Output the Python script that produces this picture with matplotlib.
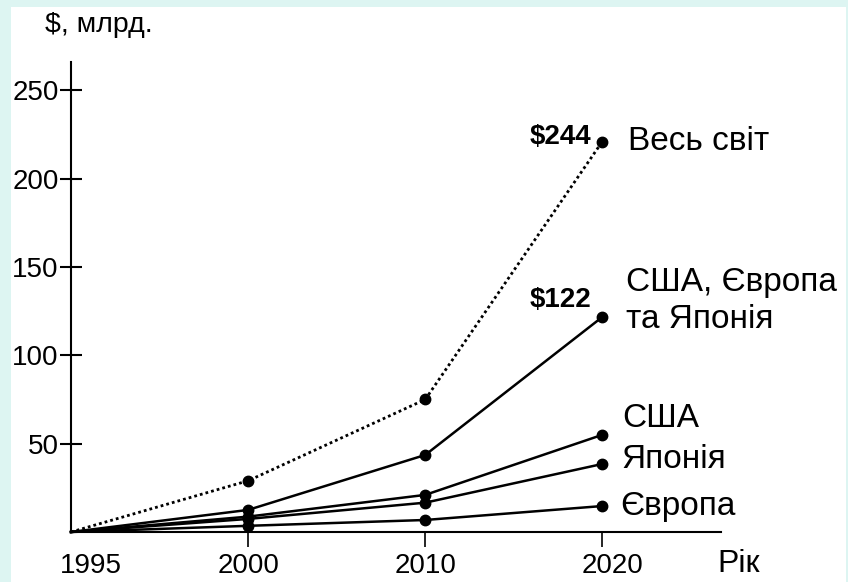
import matplotlib
matplotlib.use('Agg')
import matplotlib.pyplot as plt
import matplotlib.transforms as mtransforms
from matplotlib.patches import Rectangle

plt.rcParams['font.family'] = ['Liberation Sans', 'DejaVu Sans']

years = ['1995', '2000', '2010', '2020']
world = [0, 29, 75, 221]
combined = [0, 12.5, 43.6, 121.7]
usa = [0, 8.7, 21, 55]
japan = [0, 7.4, 16.6, 38.5]
europe = [0, 3.5, 6.8, 14.7]

yticks = [50, 100, 150, 200, 250]

fig = plt.figure(figsize=(8.48, 5.82), dpi=100)
fig.patch.set_facecolor('#ddf5f2')
fig.patches.append(Rectangle((11 / 848, 0), 835 / 848, 575 / 582,
                             transform=fig.transFigure, facecolor='white',
                             edgecolor='none', zorder=-10))

ax = fig.add_axes([71 / 848, 50 / 582, 650 / 848, 470 / 582])
ax.set_facecolor('none')

x = list(range(len(years)))
ax.plot(x, world, color='black', lw=2, linestyle=(0, (1, 1.1)),
        marker='o', ms=7.5, markevery=[1, 2, 3], clip_on=False)
for s in [combined, usa, japan, europe]:
    ax.plot(x, s, color='black', lw=1.8, marker='o', ms=7.5,
            markevery=[1, 2, 3], clip_on=False)

ax.set_xlim(0, 3.67)
ax.set_ylim(0, 266)

for side in ['top', 'right']:
    ax.spines[side].set_visible(False)
for side in ['left', 'bottom']:
    ax.spines[side].set_linewidth(1.5)

ax.set_yticks(yticks)
ax.tick_params(axis='y', direction='inout', length=16, width=1.5,
               labelsize=20, pad=1)
ax.set_xticks(x[1:])
ax.set_xticklabels(years[1:])
ax.tick_params(axis='x', direction='out', length=11, width=1.2,
               labelsize=20, pad=4)
# the 2020 label sits a bit right of its tick in the original
lbl = ax.get_xticklabels()[-1]
lbl.set_transform(lbl.get_transform() +
                  mtransforms.ScaledTranslation(10 / 100, 0, fig.dpi_scale_trans))
ax.annotate(years[0], xy=(0, 0), xytext=(14, -15), textcoords='offset points',
            ha='center', va='top', fontsize=20, annotation_clip=False)

fs = 24
ax.annotate('Весь світ', xy=(3, world[3]), xytext=(18.5, 0),
            textcoords='offset points', va='center', fontsize=fs)
ax.annotate('США, Європа\nта Японія', xy=(3, combined[3]), xytext=(17, 11.5),
            textcoords='offset points', va='center', fontsize=fs,
            linespacing=1.27)
ax.annotate('США', xy=(3, usa[3]), xytext=(14, 11.5),
            textcoords='offset points', va='center', fontsize=fs)
ax.annotate('Японія', xy=(3, japan[3]), xytext=(14, 3),
            textcoords='offset points', va='center', fontsize=fs)
ax.annotate('Європа', xy=(3, europe[3]), xytext=(13, 0),
            textcoords='offset points', va='center', fontsize=fs)

ax.annotate('$244', xy=(3, world[3]), xytext=(-8, 3),
            textcoords='offset points', ha='right', va='center',
            fontsize=20, fontweight='bold')
ax.annotate('$122', xy=(3, combined[3]), xytext=(-8, 12),
            textcoords='offset points', ha='right', va='center',
            fontsize=20, fontweight='bold')

fig.text(45 / 848, 1 - 25 / 582, '$, млрд.', fontsize=20.5, va='center')
fig.text(717 / 848, 1 - 564 / 582, 'Рік', fontsize=23, va='center')

fig.savefig('out.png', dpi=100, facecolor=fig.get_facecolor())
